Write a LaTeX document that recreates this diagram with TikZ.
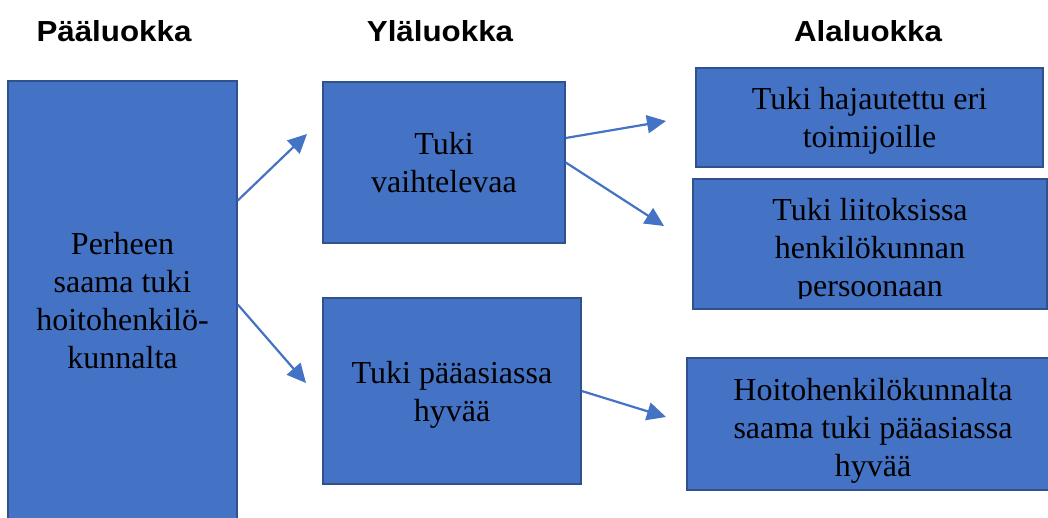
\documentclass[tikz,border=0pt]{standalone}
\usepackage{fontspec}
\setmainfont{Liberation Serif}
\newfontfamily\headfont{Liberation Sans}[FakeStretch=1.08]
\usetikzlibrary{arrows.meta}
\definecolor{boxblue}{HTML}{4472C4}
\definecolor{boxedge}{HTML}{2F528F}
\begin{document}
\begin{tikzpicture}[x=1pt,y=-1pt,
  box/.style={draw=boxedge, fill=boxblue, line width=1.5pt, inner sep=0pt,
    align=center, text=black, font=\fontsize{32}{38}\selectfont},
  boxtext/.style={align=center, inner sep=0pt, text=black,
    font=\fontsize{32}{38}\selectfont},
  head/.style={anchor=base, font=\headfont\bfseries\fontsize{29}{34}\selectfont},
  link/.style={draw=boxblue, line width=2.2pt,
    -{Triangle[length=19pt,width=18pt]}}]
\useasboundingbox (0,0) rectangle (1048,518);
\clip (0,0) rectangle (1048,518);

% column headings
\node[head] (h1) at (114,42) {Pääluokka};
\node[head] (h2) at (440,42) {Yläluokka};
\node[head] (h3) at (868,42) {Alaluokka};

% main category
\node[box, minimum width=229pt, minimum height=439pt] (A) at (122.5,300.5)
  {Perheen\\saama tuki\\hoitohenkilö-\\kunnalta};

% upper categories
\node[box, minimum width=242pt, minimum height=161pt] (B) at (444,162.5)
  {Tuki\\vaihtelevaa};
\node[box, minimum width=258pt, minimum height=186pt] (C) at (452,391) {};
\node[boxtext] (Ct) at (452,395) {Tuki pääasiassa\\hyvää};

% subcategories
\node[box, minimum width=347pt, minimum height=99pt] (D) at (869.5,117.5) {};
\node[boxtext] (Dt) at (869.5,121) {Tuki hajautettu eri\\toimijoille};
\node[box, minimum width=354pt, minimum height=130pt] (E) at (870,244) {};
\begin{scope}
  \clip (693,179) rectangle (1047,298);
  \node[boxtext] (Et) at (870,251)
    {Tuki liitoksissa\\henkilökunnan\\persoonaan};
\end{scope}
\node[box, minimum width=372pt, minimum height=132pt] (F) at (873,424) {};
\node[boxtext] (Ft) at (873,431)
  {Hoitohenkilökunnalta\\saama tuki pääasiassa\\hyvää};

% arrow tips
\coordinate (tB) at (307,134);
\coordinate (tC) at (306,383);
\coordinate (tD) at (666,121);
\coordinate (tE) at (664,226);
\coordinate (tF) at (666,417);

\draw[link] ([yshift=100pt]A.east) -- (tB);
\draw[link] ([yshift=-4pt]A.east) -- (tC);
\draw[link] ([yshift=24.5pt]B.east) -- (tD);
\draw[link] (B.east) -- (tE);
\draw[link] (C.east) -- (tF);
\end{tikzpicture}
\end{document}
